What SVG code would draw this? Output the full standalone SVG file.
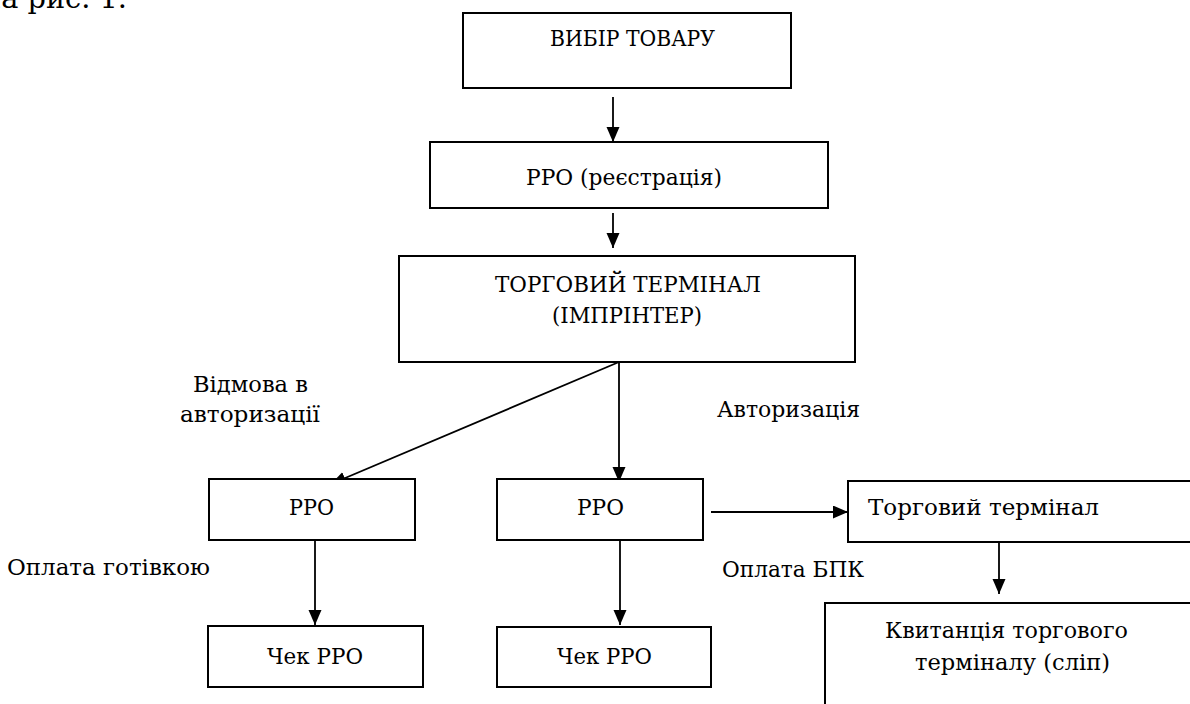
<svg xmlns="http://www.w3.org/2000/svg" width="1190" height="704" viewBox="0 0 1190 704">
<style>
.box{fill:#fff;stroke:#000;stroke-width:2}
.t{font-family:"DejaVu Serif","Liberation Serif",serif;font-size:22px;fill:#000}
.ln{stroke:#000;stroke-width:1.8;fill:none}
</style>
<defs>
<marker id="ah" markerUnits="userSpaceOnUse" markerWidth="16" markerHeight="14" refX="15" refY="6.5" orient="auto">
<path d="M0,0 L15,6.5 L0,13 z" fill="#000"/>
</marker>
</defs>
<rect width="1190" height="704" fill="#fff"/>
<text class="t" x="-18" y="8" style="font-size:27px" textLength="145" lengthAdjust="spacingAndGlyphs">на рис. 1.</text>
<g id="connectors">
<line class="ln" x1="613" y1="97" x2="613" y2="142" marker-end="url(#ah)"/>
<line class="ln" x1="613" y1="213" x2="613" y2="248" marker-end="url(#ah)"/>
<line class="ln" x1="619" y1="362" x2="331" y2="484" marker-end="url(#ah)"/>
<line class="ln" x1="619" y1="362" x2="619" y2="482" marker-end="url(#ah)"/>
<line class="ln" x1="711" y1="512" x2="848" y2="512" marker-end="url(#ah)"/>
<line class="ln" x1="999" y1="542" x2="999" y2="594" marker-end="url(#ah)"/>
<line class="ln" x1="315" y1="540" x2="315" y2="625" marker-end="url(#ah)"/>
<line class="ln" x1="620" y1="540" x2="620" y2="625" marker-end="url(#ah)"/>
</g>
<g id="n1"><rect class="box" x="463" y="13" width="328" height="75"/><text class="t" x="550" y="46" textLength="165" lengthAdjust="spacingAndGlyphs">ВИБІР ТОВАРУ</text></g>
<g id="n2"><rect class="box" x="430" y="142" width="398" height="66"/><text class="t" x="526" y="185" textLength="196" lengthAdjust="spacingAndGlyphs">РРО (реєстрація)</text></g>
<g id="n3"><rect class="box" x="399" y="256" width="456" height="106"/><text class="t" x="495" y="292" textLength="266" lengthAdjust="spacingAndGlyphs">ТОРГОВИЙ ТЕРМІНАЛ</text><text class="t" x="552" y="323" textLength="150" lengthAdjust="spacingAndGlyphs">(ІМПРІНТЕР)</text></g>
<g id="n4"><rect class="box" x="209" y="479" width="206" height="61"/><text class="t" x="289" y="515" textLength="45" lengthAdjust="spacingAndGlyphs">РРО</text></g>
<g id="n5"><rect class="box" x="497" y="479" width="206" height="61"/><text class="t" x="577" y="515" textLength="47" lengthAdjust="spacingAndGlyphs">РРО</text></g>
<g id="n6"><rect class="box" x="848" y="481" width="360" height="61"/><text class="t" x="868" y="515" textLength="231" lengthAdjust="spacingAndGlyphs">Торговий термінал</text></g>
<g id="n7"><rect class="box" x="208" y="626" width="215" height="61"/><text class="t" x="267" y="664" textLength="96" lengthAdjust="spacingAndGlyphs">Чек РРО</text></g>
<g id="n8"><rect class="box" x="497" y="627" width="214" height="60"/><text class="t" x="557" y="664" textLength="95" lengthAdjust="spacingAndGlyphs">Чек РРО</text></g>
<g id="n9"><rect class="box" x="825" y="603" width="400" height="130"/><text class="t" x="885" y="638" textLength="243" lengthAdjust="spacingAndGlyphs">Квитанція торгового</text><text class="t" x="915" y="670" textLength="195" lengthAdjust="spacingAndGlyphs">терміналу (сліп)</text></g>
<g id="labels">
<text class="t" x="193" y="392" textLength="115" lengthAdjust="spacingAndGlyphs">Відмова в</text>
<text class="t" x="180" y="422" textLength="140" lengthAdjust="spacingAndGlyphs">авторизації</text>
<text class="t" x="717" y="417" textLength="143" lengthAdjust="spacingAndGlyphs">Авторизація</text>
<text class="t" x="7" y="575" textLength="203" lengthAdjust="spacingAndGlyphs">Оплата готівкою</text>
<text class="t" x="722" y="577" textLength="142" lengthAdjust="spacingAndGlyphs">Оплата БПК</text>
</g>
</svg>
